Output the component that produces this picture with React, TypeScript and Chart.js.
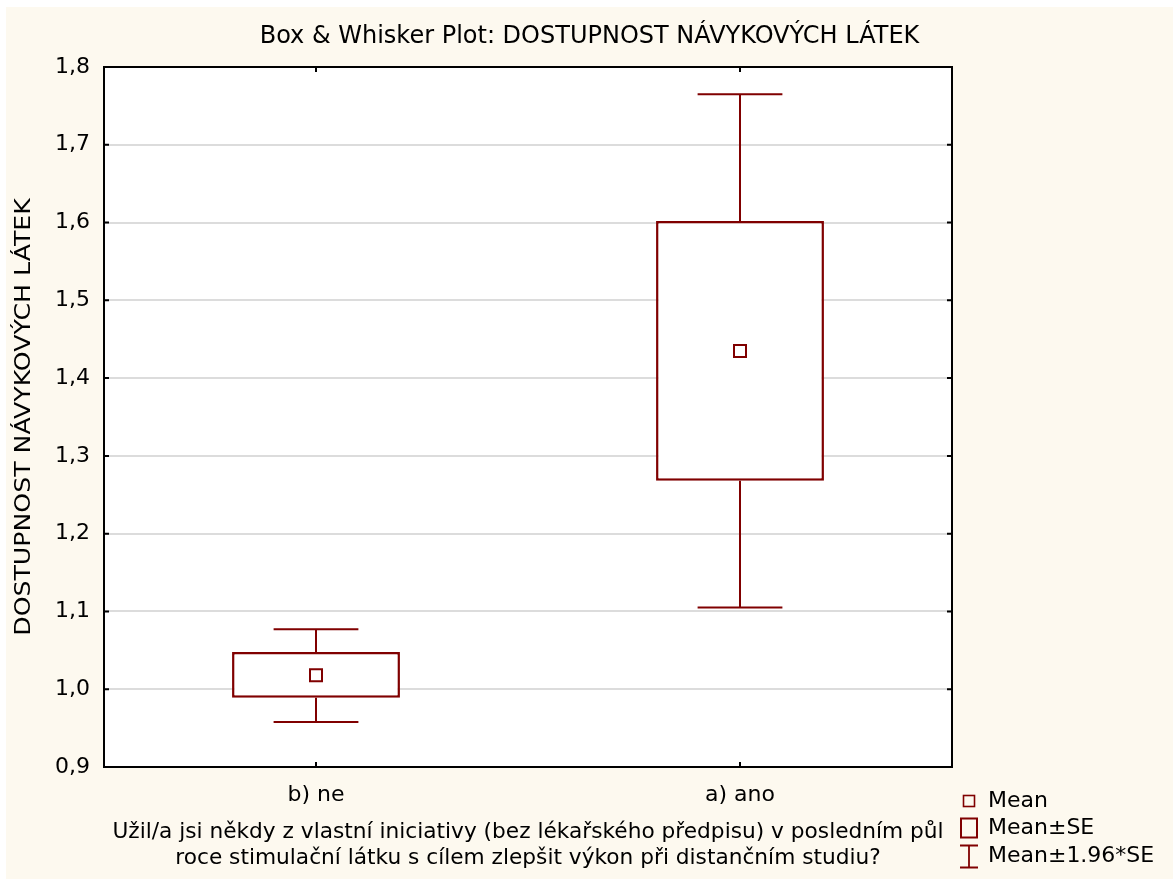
import React, { useEffect, useRef } from 'react';
import { Chart, registerables } from 'chart.js';

Chart.register(...registerables);

const FONT = '"DejaVu Sans", "Liberation Sans", sans-serif';
const RED = '#800000';

const chartTitle = 'Box & Whisker Plot: DOSTUPNOST NÁVYKOVÝCH LÁTEK';
const yAxisTitle = 'DOSTUPNOST NÁVYKOVÝCH LÁTEK';
const xAxisTitle = [
  'Užil/a jsi někdy z vlastní iniciativy (bez lékařského předpisu) v posledním půl',
  'roce stimulační látku s cílem zlepšit výkon při distančním studiu?',
];
const categories = ['b) ne', 'a) ano'];
const means = [1.018, 1.435];
const seLower = [0.989, 1.268];
const seUpper = [1.048, 1.602];
const ciLower = [0.958, 1.105];
const ciUpper = [1.077, 1.765];
const yMin = 0.9;
const yMax = 1.8;
const yStep = 0.1;
const legendLabels = ['Mean', 'Mean±SE', 'Mean±1.96*SE'];

export default function App() {
  const ref = useRef<HTMLCanvasElement>(null);

  useEffect(() => {
    if (!ref.current) return;

    const extras = {
      id: 'boxExtras',
      beforeDraw(chart: any) {
        const { ctx, chartArea: a } = chart;
        ctx.save();
        ctx.fillStyle = '#ffffff';
        ctx.fillRect(a.left, a.top, a.right - a.left, a.bottom - a.top);
        ctx.restore();
      },
      afterDatasetsDraw(chart: any) {
        const { ctx } = chart;
        const xs = chart.scales.x;
        const ys = chart.scales.y;
        const catW = xs.width / categories.length;
        const capHalf = catW * 0.1;
        ctx.save();
        ctx.strokeStyle = RED;
        ctx.lineWidth = 2;
        categories.forEach((_, i) => {
          const cx = Math.round(xs.getPixelForValue(i));
          const yTop = ys.getPixelForValue(ciUpper[i]);
          const yBoxTop = ys.getPixelForValue(seUpper[i]);
          const yBoxBot = ys.getPixelForValue(seLower[i]);
          const yBot = ys.getPixelForValue(ciLower[i]);
          ctx.beginPath();
          ctx.moveTo(cx, yTop);
          ctx.lineTo(cx, yBoxTop);
          ctx.moveTo(cx, yBoxBot);
          ctx.lineTo(cx, yBot);
          ctx.moveTo(cx - capHalf, yTop);
          ctx.lineTo(cx + capHalf, yTop);
          ctx.moveTo(cx - capHalf, yBot);
          ctx.lineTo(cx + capHalf, yBot);
          ctx.stroke();
        });
        ctx.restore();
      },
      afterDraw(chart: any) {
        const { ctx, chartArea: a, width } = chart;
        const xs = chart.scales.x;
        const ys = chart.scales.y;
        ctx.save();
        // frame
        ctx.strokeStyle = '#000000';
        ctx.lineWidth = 2;
        ctx.strokeRect(a.left, a.top, a.right - a.left, a.bottom - a.top);
        // inward tick marks
        ctx.beginPath();
        ys.ticks.forEach((t: any) => {
          const y = ys.getPixelForValue(t.value);
          ctx.moveTo(a.left, y);
          ctx.lineTo(a.left + 5, y);
          ctx.moveTo(a.right - 5, y);
          ctx.lineTo(a.right, y);
        });
        categories.forEach((_, i) => {
          const x = xs.getPixelForValue(i);
          ctx.moveTo(x, a.top);
          ctx.lineTo(x, a.top + 5);
          ctx.moveTo(x, a.bottom - 5);
          ctx.lineTo(x, a.bottom);
        });
        ctx.stroke();

        // title
        ctx.fillStyle = '#000000';
        ctx.font = `24px ${FONT}`;
        ctx.textAlign = 'center';
        ctx.textBaseline = 'middle';
        ctx.fillText(chartTitle, width / 2, 30);

        // y axis title (rotated, widened along its length)
        ctx.save();
        ctx.translate(19, (a.top + a.bottom) / 2);
        ctx.rotate(-Math.PI / 2);
        ctx.scale(1.2, 1);
        ctx.font = `21px ${FONT}`;
        ctx.fillText(yAxisTitle, 0, 0);
        ctx.restore();

        // legend
        const mx = a.right + 17;
        const tx = a.right + 36;
        const rows = [a.bottom + 34, a.bottom + 61, a.bottom + 89];
        ctx.font = `22px ${FONT}`;
        ctx.textAlign = 'left';
        ctx.textBaseline = 'middle';
        legendLabels.forEach((lbl, i) => {
          ctx.fillStyle = '#000000';
          ctx.fillText(lbl, tx, rows[i]);
        });
        ctx.strokeStyle = RED;
        ctx.lineWidth = 1.6;
        ctx.strokeRect(mx - 5.5, rows[0] - 5.5, 11, 11);
        ctx.lineWidth = 2;
        ctx.strokeRect(mx - 8, rows[1] - 9.5, 16, 19);
        ctx.lineWidth = 1.8;
        ctx.beginPath();
        ctx.moveTo(mx - 9, rows[2] - 10.5);
        ctx.lineTo(mx + 9, rows[2] - 10.5);
        ctx.moveTo(mx, rows[2] - 10.5);
        ctx.lineTo(mx, rows[2] + 11.5);
        ctx.moveTo(mx - 9, rows[2] + 11.5);
        ctx.lineTo(mx + 9, rows[2] + 11.5);
        ctx.stroke();
        ctx.restore();
      },
    };

    const chart = new Chart(ref.current, {
      type: 'bar',
      data: {
        labels: categories,
        datasets: [
          {
            type: 'line',
            label: 'Mean',
            data: means,
            showLine: false,
            pointStyle: 'rect',
            pointRadius: 8.5,
            pointBorderWidth: 2,
            pointBackgroundColor: '#ffffff',
            pointBorderColor: RED,
            order: 0,
          } as any,
          {
            type: 'bar',
            label: 'Mean±SE',
            data: categories.map((_, i) => [seLower[i], seUpper[i]]),
            backgroundColor: '#ffffff',
            borderColor: RED,
            borderWidth: 2.5,
            borderSkipped: false,
            barPercentage: 0.396,
            categoryPercentage: 1,
            order: 1,
          } as any,
        ],
      },
      options: {
        responsive: true,
        maintainAspectRatio: false,
        animation: false,
        layout: { padding: { left: 0, right: 221, top: 60, bottom: 0 } },
        plugins: {
          legend: { display: false },
          title: { display: false },
          tooltip: { enabled: false },
        },
        scales: {
          x: {
            type: 'category',
            offset: true,
            grid: { display: false, drawTicks: false },
            border: { display: false },
            ticks: {
              color: '#000000',
              font: { family: FONT, size: 22 },
              padding: 15,
            },
            title: {
              display: true,
              text: xAxisTitle,
              color: '#000000',
              font: { family: FONT, size: 21.7, lineHeight: 26 / 21.7 },
              padding: { top: 0, bottom: 8 },
            },
            afterFit(scale: any) {
              scale.height = 112;
            },
          },
          y: {
            type: 'linear',
            min: yMin,
            max: yMax,
            grid: {
              drawTicks: false,
              lineWidth: 2,
              color: (c: any) =>
                c.tick && (Math.abs(c.tick.value - yMin) < 1e-6 || Math.abs(c.tick.value - yMax) < 1e-6)
                  ? 'rgba(0,0,0,0)'
                  : '#dcdcdc',
            },
            border: { display: false },
            ticks: {
              stepSize: yStep,
              autoSkip: false,
              color: '#000000',
              font: { family: FONT, size: 22 },
              padding: 14,
              callback: (v: any) => Number(v).toFixed(1).replace('.', ','),
            },
            title: { display: false },
            afterFit(scale: any) {
              scale.width = 98;
            },
          },
        },
      },
      plugins: [extras],
    });

    return () => chart.destroy();
  }, []);

  return (
    <div
      style={{
        position: 'absolute',
        left: 6,
        top: 7,
        width: 1167,
        height: 872,
        background: '#fdf9ef',
      }}
    >
      <canvas ref={ref} />
    </div>
  );
}
